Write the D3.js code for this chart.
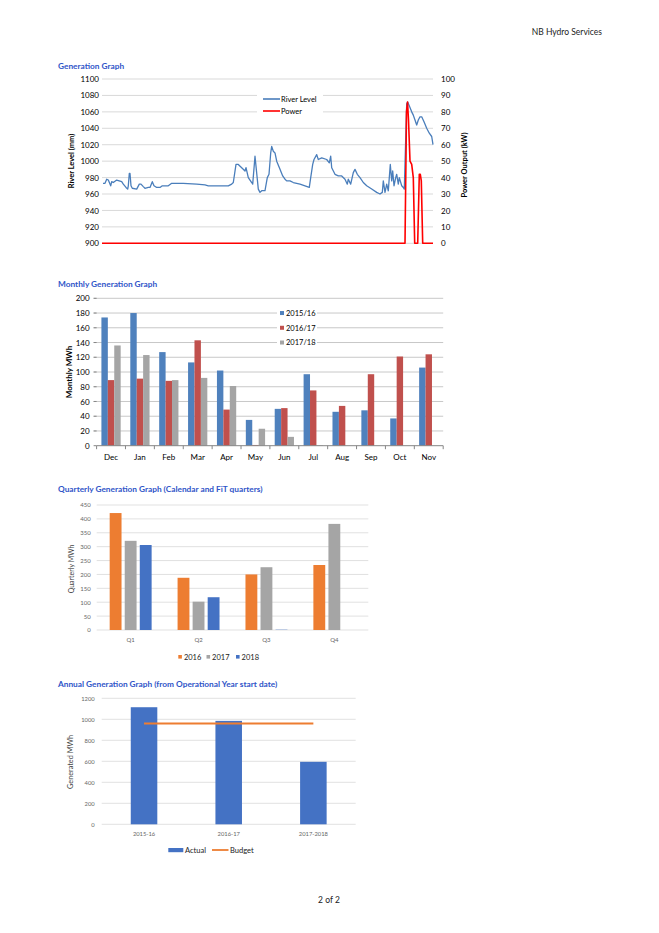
<!DOCTYPE html>
<html><head><meta charset="utf-8">
<script src="https://cdn.jsdelivr.net/npm/d3@7/dist/d3.min.js"></script>
<style>
body{margin:0;background:#fff;}
svg{display:block;font-family:Lato,"Open Sans",sans-serif;}
</style>
</head><body>
<svg id="c" width="659" height="933"></svg>
<script>
// ---------- DATA ----------
// Generation graph: [day, river level mm]
const riverLevel = [[1,973],[3,973],[4.7,978],[6.3,977],[8.7,970],[9.7,975],[11.3,974],[14.7,977],[19.7,975],[21.3,972],[24,968],[25.7,966],[26.3,970],[27.3,985],[28,985],[29,970],[30.3,967],[34.7,966],[37.3,972],[39,972],[41.3,969],[43,967],[46.3,968],[48,968],[50.3,975],[52,970],[54.7,968],[58,968],[60.3,970],[66.3,970],[69.7,973],[81.3,973],[94.7,972],[103,971],[106.3,970],[126.3,970],[129.7,972],[131.3,974],[134,996],[136.3,996],[139.7,992],[143,988],[144,992],[146.3,980],[149.7,974],[150.7,972],[153,1006],[156.3,966],[158,962],[159.7,964],[163,964],[165.3,980],[167,984],[168.7,1010],[169.7,1018],[171.3,1012],[173,1010],[174.7,1000],[178,990],[180.7,982],[183,978],[184.7,976],[188,976],[191.3,974],[198,972],[203,970],[207.3,968],[208.7,980],[210.7,996],[212,1002],[214.7,1008],[216.3,1002],[219.7,1004],[224.7,1002],[227.3,998],[228.7,1006],[229.7,992],[233,984],[236.3,982],[239.7,982],[243,978],[245.3,972],[246.3,978],[248.7,972],[251.3,986],[253,990],[255.3,984],[258,980],[261.3,974],[264.7,970],[269.7,966],[274.7,962],[278,960],[280.3,962],[281.3,976],[283,962],[284.7,972],[286.3,964],[287.3,980],[288.3,996],[289.7,976],[290.7,988],[292,970],[293.7,980],[294.7,984],[296.3,972],[297.3,980],[299.7,970],[301.3,968],[302.3,966],[304.7,1070],[305.7,1072],[309.7,1060],[311.3,1056],[313,1050],[314.7,1044],[316.3,1050],[318,1054],[319.7,1054],[322,1048],[324.7,1040],[327.3,1034],[329.7,1030],[331,1020]];
// Generation graph: [day, power kW]
const powerOutput = [[0,0],[303,0],[304.5,80],[305.5,86],[306.5,75],[308,50],[309.7,48],[311.3,40],[312.7,0],[315.7,0],[317.3,42],[318.3,42],[319.3,38],[320.7,0],[331,0]];
const levelTicks = [900,920,940,960,980,1000,1020,1040,1060,1080,1100];
const powerTicks = [0,10,20,30,40,50,60,70,80,90,100];

// Monthly graph
const months = ["Dec","Jan","Feb","Mar","Apr","May","Jun","Jul","Aug","Sep","Oct","Nov"];
const monthlySeries = ["2015/16","2016/17","2017/18"];
const monthly1516 = [174,180,127,113,102,35,50,97,46,48,37,106];
const monthly1617 = [89,91,88,143,49,1,51,75,54,97,121,124];
const monthly1718 = [136,123,89,92,81,23,12,0.6,0,0,0,0];
const monthlyTicks = [0,20,40,60,80,100,120,140,160,180,200];

// Quarterly graph
const quarters = ["Q1","Q2","Q3","Q4"];
const quarterlySeries = ["2016","2017","2018"];
const quarterly2016 = [421,188,200,234];
const quarterly2017 = [321,102,226,382];
const quarterly2018 = [306,118,1,0];
const quarterlyTicks = [0,50,100,150,200,250,300,350,400,450];

// Annual graph
const opYears = ["2015-16","2016-17","2017-2018"];
const annualActual = [1115,985,595];
const annualBudget = [960,960,960];
const annualTicks = [0,200,400,600,800,1000,1200];

// ---------- DRAW ----------
const svg = d3.select("#c");
const TITLE = "#2F55C8", GRID = "#D9D9D9";
const fmt = d3.format("d");

svg.append("text").attr("x",602).attr("y",35).attr("text-anchor","end")
  .attr("font-size",8.5).attr("fill","#222").text("NB Hydro Services");
svg.append("text").attr("x",329).attr("y",903).attr("text-anchor","middle")
  .attr("font-size",8.5).attr("fill","#222").text("2 of 2");

function title(t,y){
  svg.append("text").attr("x",58).attr("y",y).attr("font-size",8.3)
    .attr("font-weight","bold").attr("fill",TITLE).text(t);
}
function vtitle(t,x,y,opts){
  svg.append("text").attr("transform",`translate(${x},${y}) rotate(-90)`)
    .attr("text-anchor","middle").attr("font-size",opts.size)
    .attr("font-weight",opts.bold?"bold":"normal").attr("fill",opts.fill||"#000").text(t);
}

// ---- Generation Graph ----
title("Generation Graph",69);
{
  const x = d3.scaleLinear().domain([0,331]).range([102,433]);
  const yL = d3.scaleLinear().domain([900,1100]).range([243.3,79]);
  const yR = d3.scaleLinear().domain([0,100]).range([243.3,79]);
  const g = svg.append("g");
  g.selectAll(".gl").data(levelTicks).join("line")
    .attr("x1",x(0)).attr("x2",x(331)).attr("y1",d=>yL(d)).attr("y2",d=>yL(d))
    .attr("stroke",GRID).attr("stroke-width",1);
  const axL = d3.axisLeft(yL).tickValues(levelTicks).tickFormat(fmt).tickSize(0).tickPadding(3);
  const gl = g.append("g").attr("transform",`translate(${x(0)},0)`).call(axL);
  gl.select(".domain").remove();
  gl.selectAll("text").attr("font-size",8).attr("fill","#000").attr("font-family","Lato");
  const axR = d3.axisRight(yR).tickValues(powerTicks).tickFormat(fmt).tickSize(0).tickPadding(8);
  const gr = g.append("g").attr("transform",`translate(${x(331)},0)`).call(axR);
  gr.select(".domain").remove();
  gr.selectAll("text").attr("font-size",8).attr("fill","#000").attr("font-family","Lato");
  vtitle("River Level (mm)",74,161,{size:7.5,bold:true});
  vtitle("Power Output (kW)",467,165,{size:7.5,bold:true});
  // legend box
  g.append("rect").attr("x",257).attr("y",91).attr("width",66).attr("height",26).attr("fill","#fff");
  g.append("path").datum(riverLevel)
    .attr("d",d3.line().x(d=>x(d[0])).y(d=>yL(d[1])))
    .attr("fill","none").attr("stroke","#4A7EBB").attr("stroke-width",1.3).attr("stroke-linejoin","round");
  g.append("path").datum(powerOutput)
    .attr("d",d3.line().x(d=>x(d[0])).y(d=>yR(d[1])))
    .attr("fill","none").attr("stroke","#FF0000").attr("stroke-width",1.6).attr("stroke-linejoin","round");
  const leg = [["River Level","#4A7EBB",99],["Power","#FF0000",111]];
  leg.forEach(([t,c,yy])=>{
    g.append("line").attr("x1",263).attr("x2",280).attr("y1",yy).attr("y2",yy).attr("stroke",c).attr("stroke-width",1.6);
    g.append("text").attr("x",281).attr("y",yy+2.8).attr("font-size",7.5).attr("fill","#000").text(t);
  });
}

// ---- Monthly Generation Graph ----
title("Monthly Generation Graph",287);
{
  const x = d3.scaleBand().domain(months).range([96.6,443.2]).padding(0);
  const y = d3.scaleLinear().domain([0,200]).range([445.7,298.3]);
  const g = svg.append("g");
  g.selectAll(".gl").data(monthlyTicks.slice(1)).join("line")
    .attr("x1",93.6).attr("x2",443.2).attr("y1",d=>y(d)).attr("y2",d=>y(d))
    .attr("stroke","#C8C8C8").attr("stroke-width",1);
  const ax = d3.axisLeft(y).tickValues(monthlyTicks).tickFormat(fmt).tickSize(0).tickPadding(7);
  const ga = g.append("g").attr("transform",`translate(96.6,0)`).call(ax);
  ga.select(".domain").remove();
  ga.selectAll("text").attr("font-size",8).attr("fill","#000").attr("font-family","Lato");
  vtitle("Monthly MWh",72,372,{size:8,bold:true});
  // legend box
  g.append("rect").attr("x",277).attr("y",306).attr("width",40).attr("height",45).attr("fill","#fff");
  const bw = x.bandwidth()/4.5;
  const cols = ["#4F81BD","#C0504D","#A5A5A5"];
  const sets = [monthly1516,monthly1617,monthly1718];
  sets.forEach((arr,i)=>{
    g.selectAll(".b"+i).data(arr).join("rect")
      .attr("x",(d,j)=>x(months[j])+0.75*bw+i*bw).attr("width",bw)
      .attr("y",d=>y(d)).attr("height",d=>y(0)-y(d)).attr("fill",cols[i]);
  });
  // bottom axis
  g.append("line").attr("x1",96.6).attr("x2",443.2).attr("y1",y(0)).attr("y2",y(0)).attr("stroke","#868686");
  const bx = d3.axisBottom(x).tickSize(0).tickPadding(9);
  const gb = g.append("g").attr("transform",`translate(0,${y(0)})`).call(bx);
  gb.select(".domain").remove();
  gb.selectAll("text").attr("font-size",8).attr("fill","#000").attr("font-family","Lato");
  g.selectAll(".tk").data(months.concat(["end"])).join("line")
    .attr("x1",(d,i)=>96.6+i*x.step()).attr("x2",(d,i)=>96.6+i*x.step())
    .attr("y1",y(0)).attr("y2",y(0)+3.5).attr("stroke","#868686");
  // y ticks
  g.selectAll(".yt").data(monthlyTicks).join("line")
    .attr("x1",93.6).attr("x2",96.6).attr("y1",d=>y(d)).attr("y2",d=>y(d)).attr("stroke","#868686");
  monthlySeries.forEach((t,i)=>{
    const yy = y(180-20*i);
    g.append("rect").attr("x",280).attr("y",yy-2).attr("width",4).attr("height",4).attr("fill",cols[i]);
    g.append("text").attr("x",286).attr("y",yy+2.8).attr("font-size",7.5).attr("fill","#000").text(t);
  });
}

// ---- Quarterly Generation Graph ----
title("Quarterly Generation Graph (Calendar and FiT quarters)",492);
{
  const x = d3.scaleBand().domain(quarters).range([96.7,368.3]).padding(0);
  const y = d3.scaleLinear().domain([0,450]).range([630,505]);
  const g = svg.append("g");
  g.selectAll(".gl").data(quarterlyTicks).join("line")
    .attr("x1",96.7).attr("x2",368.3).attr("y1",d=>y(d)).attr("y2",d=>y(d))
    .attr("stroke",GRID).attr("stroke-width",0.8);
  const ax = d3.axisLeft(y).tickValues(quarterlyTicks).tickFormat(fmt).tickSize(0).tickPadding(6);
  const ga = g.append("g").attr("transform",`translate(96.7,0)`).call(ax);
  ga.select(".domain").remove();
  ga.selectAll("text").attr("font-size",6).attr("fill","#666").attr("font-family","Lato");
  vtitle("Quarterly MWh",74,569,{size:7,bold:false,fill:"#444"});
  const bw = x.bandwidth()/(3+2*0.27+2.19);
  const gap = 0.27*bw;
  const outer = (x.bandwidth()-3*bw-2*gap)/2;
  const cols = ["#ED7D31","#A5A5A5","#4472C4"];
  const sets = [quarterly2016,quarterly2017,quarterly2018];
  sets.forEach((arr,i)=>{
    g.selectAll(".b"+i).data(arr).join("rect")
      .attr("x",(d,j)=>x(quarters[j])+outer+i*(bw+gap)).attr("width",bw)
      .attr("y",d=>y(d)).attr("height",d=>y(0)-y(d)).attr("fill",cols[i]);
  });
  const bx = d3.axisBottom(x).tickSize(0).tickPadding(8);
  const gb = g.append("g").attr("transform",`translate(0,${y(0)})`).call(bx);
  gb.select(".domain").remove();
  gb.selectAll("text").attr("font-size",6).attr("fill","#666").attr("font-family","Lato");
  const lx = [178.3,206.5,236];
  quarterlySeries.forEach((t,i)=>{
    g.append("rect").attr("x",lx[i]).attr("y",655).attr("width",3.6).attr("height",3.6).attr("fill",cols[i]);
    g.append("text").attr("x",lx[i]+5.6).attr("y",659.6).attr("font-size",7.5).attr("fill","#222").text(t);
  });
}

// ---- Annual Generation Graph ----
title("Annual Generation Graph (from Operational Year start date)",687);
{
  const x = d3.scaleBand().domain(opYears).range([101.7,355.7]).padding(0);
  const y = d3.scaleLinear().domain([0,1200]).range([824.3,698.3]);
  const g = svg.append("g");
  g.selectAll(".gl").data(annualTicks).join("line")
    .attr("x1",101.7).attr("x2",355.7).attr("y1",d=>y(d)).attr("y2",d=>y(d))
    .attr("stroke",GRID).attr("stroke-width",0.8);
  const ax = d3.axisLeft(y).tickValues(annualTicks).tickFormat(fmt).tickSize(0).tickPadding(7);
  const ga = g.append("g").attr("transform",`translate(101.7,0)`).call(ax);
  ga.select(".domain").remove();
  ga.selectAll("text").attr("font-size",5.8).attr("fill","#666").attr("font-family","Lato");
  vtitle("Generated MWh",73,762,{size:7.3,bold:false,fill:"#444"});
  const bw = x.bandwidth()/3.19;
  g.selectAll(".b").data(annualActual).join("rect")
    .attr("x",(d,j)=>x(opYears[j])+(x.bandwidth()-bw)/2).attr("width",bw)
    .attr("y",d=>y(d)).attr("height",d=>y(0)-y(d)).attr("fill","#4472C4");
  g.append("path").datum(annualBudget)
    .attr("d",d3.line().x((d,j)=>x(opYears[j])+x.bandwidth()/2).y(d=>y(d)))
    .attr("fill","none").attr("stroke","#ED7D31").attr("stroke-width",1.8);
  const bx = d3.axisBottom(x).tickSize(0).tickPadding(8);
  const gb = g.append("g").attr("transform",`translate(0,${y(0)})`).call(bx);
  gb.select(".domain").remove();
  gb.selectAll("text").attr("font-size",5.8).attr("fill","#666").attr("font-family","Lato");
  g.append("rect").attr("x",168.3).attr("y",848).attr("width",15).attr("height",4.2).attr("fill","#4472C4");
  g.append("text").attr("x",185).attr("y",852.6).attr("font-size",7.5).attr("fill","#222").text("Actual");
  g.append("line").attr("x1",212).attr("x2",228.5).attr("y1",850).attr("y2",850).attr("stroke","#ED7D31").attr("stroke-width",1.8);
  g.append("text").attr("x",230).attr("y",852.6).attr("font-size",7.5).attr("fill","#222").text("Budget");
}
</script>
</body></html>
